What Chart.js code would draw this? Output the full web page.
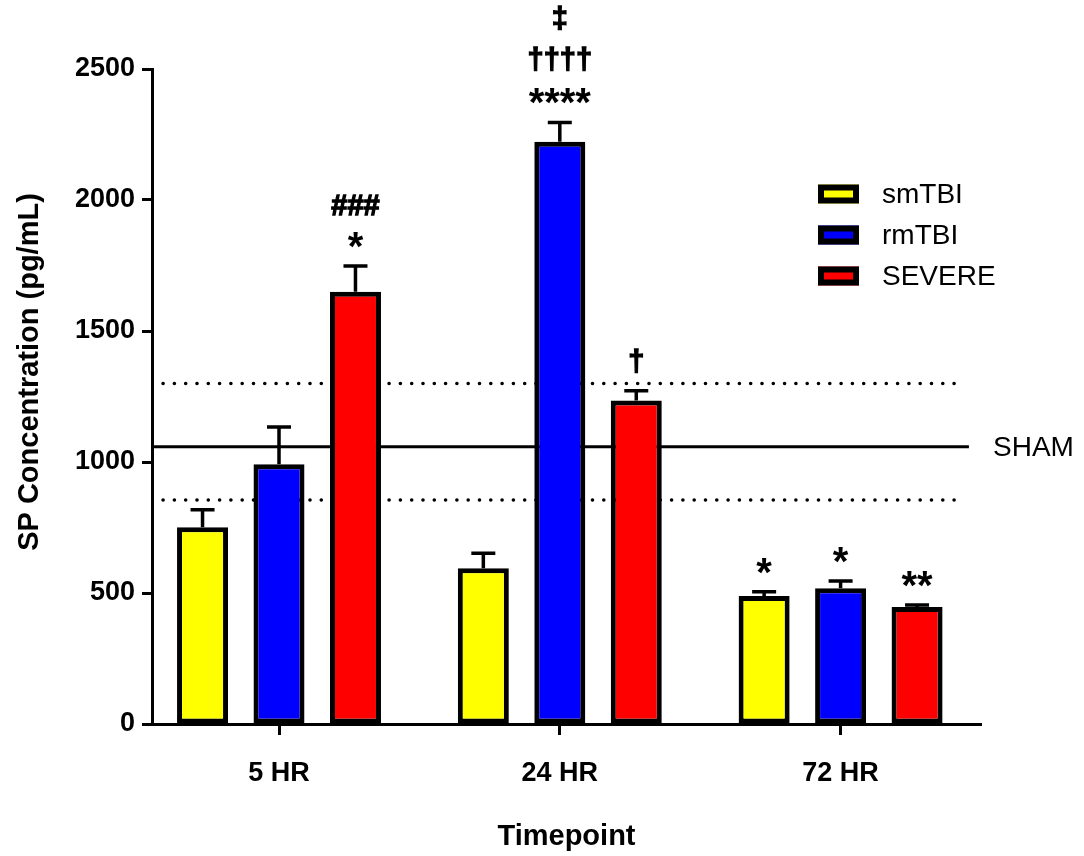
<!DOCTYPE html>
<html lang="en">
<head>
  <meta charset="UTF-8" />
  <title>SP Concentration</title>
  <script src="https://cdn.jsdelivr.net/npm/chart.js"></script>
  <style>
    html, body { margin: 0; padding: 0; background: #fff; }
    #wrap { width: 1084px; height: 856px; }
  </style>
</head>
<body>
  <div id="wrap"><canvas id="spChart"></canvas></div>

  <script>
    // values
    const timepoints = ['5 HR', '24 HR', '72 HR'];
    const groups = ['smTBI', 'rmTBI', 'SEVERE'];
    const smTBIMean = [751, 594, 489];
    const smTBISem = [67, 58, 16];
    const rmTBIMean = [991, 2222, 518];
    const rmTBISem = [143, 74, 28];
    const severeMean = [1650, 1235, 447];
    const severeSem = [98, 37, 7];
    const smTBISig = [[], [], ['*']];
    const rmTBISig = [[], ['****', '††††', '‡'], ['*']];
    const severeSig = [['*', '###'], ['†'], ['**']];
    const shamMean = 1058;
    const shamUpper = 1300;
    const shamLower = 855;
    const yTicks = [0, 500, 1000, 1500, 2000, 2500];

    const FONT = "'Liberation Sans', Arial, sans-serif";
    const colors = ['#ffff00', '#0000ff', '#ff0000'];
    Chart.defaults.font.family = FONT;
    Chart.defaults.color = '#000';

    function barSet(label, mean, sem, sig, color) {
      return {
        type: 'bar',
        label: label,
        data: mean.map((v, i) => ({ x: i + 1, y: v })),
        sem: sem,
        sig: sig,
        backgroundColor: color,
        borderColor: '#000',
        borderWidth: 5,
        borderSkipped: false,
        categoryPercentage: 0.817,
        barPercentage: 0.667,
        order: 1
      };
    }

    function shamLine(value, dotted, x0, x1) {
      return {
        type: 'line',
        label: 'sham',
        data: [{ x: x0, y: value }, { x: x1, y: value }],
        borderColor: '#000',
        borderWidth: dotted ? 3.5 : 3,
        borderDash: dotted ? [0.1, 11.2] : [],
        borderCapStyle: dotted ? 'round' : 'butt',
        pointRadius: 0,
        order: 2
      };
    }

    const overlay = {
      id: 'overlay',
      afterDatasetsDraw(chart) {
        const ctx = chart.ctx;
        const yScale = chart.scales.y;
        ctx.save();
        ctx.strokeStyle = '#000';
        ctx.fillStyle = '#000';
        chart.data.datasets.forEach((ds, di) => {
          if (ds.type !== 'bar') return;
          const meta = chart.getDatasetMeta(di);
          meta.data.forEach((bar, j) => {
            const capY = yScale.getPixelForValue(ds.data[j].y + ds.sem[j]);
            ctx.lineWidth = 3.5;
            ctx.beginPath();
            ctx.moveTo(bar.x, bar.y);
            ctx.lineTo(bar.x, capY);
            ctx.moveTo(bar.x - 12, capY);
            ctx.lineTo(bar.x + 12, capY);
            ctx.stroke();

            // significance marks stacked above the error bar
            let bottom = capY - 18;
            ds.sig[j].forEach(txt => {
              const star = txt.includes('*');
              ctx.font = (star ? 'bold 40px ' : 'bold 29px ') + FONT;
              ctx.textAlign = 'center';
              ctx.textBaseline = 'alphabetic';
              const m = ctx.measureText(txt);
              const base = bottom - m.actualBoundingBoxDescent;
              ctx.fillText(txt, bar.x, base);
              if (!star) {
                ctx.lineWidth = 1.3;
                ctx.strokeText(txt, bar.x, base);
              }
              bottom = base - m.actualBoundingBoxAscent - 17;
            });
          });
        });

        // SHAM label
        ctx.font = '28px ' + FONT;
        ctx.textAlign = 'left';
        ctx.textBaseline = 'middle';
        ctx.fillText('SHAM', 993, yScale.getPixelForValue(shamMean) + 1);

        // legend
        groups.forEach((g, i) => {
          const y = 194 + i * 41;
          ctx.fillStyle = colors[i];
          ctx.fillRect(818, y - 9.5, 41, 19);
          ctx.lineWidth = 6;
          ctx.strokeRect(821, y - 6.5, 35, 13);
          ctx.fillStyle = '#000';
          ctx.font = '28px ' + FONT;
          ctx.fillText(g, 882, y + 1);
        });

        // y title
        ctx.translate(30, 372);
        ctx.rotate(-Math.PI / 2);
        ctx.font = 'bold 29px ' + FONT;
        ctx.textAlign = 'center';
        ctx.textBaseline = 'middle';
        ctx.fillText('SP Concentration (pg/mL)', 0, 0);
        ctx.restore();
      }
    };

    const xMin = 0.5477;
    const ctx = document.getElementById('spChart').getContext('2d');
    new Chart(ctx, {
      type: 'bar',
      data: {
        datasets: [
          barSet(groups[0], smTBIMean, smTBISem, smTBISig, colors[0]),
          barSet(groups[1], rmTBIMean, rmTBISem, rmTBISig, colors[1]),
          barSet(groups[2], severeMean, severeSem, severeSig, colors[2]),
          shamLine(shamMean, false, xMin, 3.457),
          shamLine(shamUpper, true, 0.587, 3.43),
          shamLine(shamLower, true, 0.587, 3.43)
        ]
      },
      options: {
        responsive: true,
        maintainAspectRatio: false,
        animation: false,
        layout: { padding: { top: 69, right: 103, bottom: 0, left: 0 } },
        plugins: {
          legend: { display: false },
          tooltip: { enabled: false }
        },
        scales: {
          x: {
            type: 'linear',
            min: xMin,
            max: 3.5,
            offset: false,
            afterBuildTicks: s => { s.ticks = [1, 2, 3].map(v => ({ value: v })); },
            afterFit: s => { s.height = 132; },
            grid: { display: true, drawOnChartArea: false, offset: false, tickLength: 11, tickWidth: 3, tickColor: '#000' },
            border: { display: true, color: '#000', width: 3 },
            ticks: {
              autoSkip: false,
              maxRotation: 0,
              padding: 22,
              font: { size: 27, weight: 'bold' },
              callback: v => timepoints[v - 1]
            },
            title: {
              display: true,
              text: 'Timepoint',
              font: { size: 29, weight: 'bold' },
              padding: { top: 0, bottom: 2 }
            }
          },
          y: {
            min: 0,
            max: 2500,
            afterBuildTicks: s => { s.ticks = yTicks.map(v => ({ value: v })); },
            afterFit: s => { s.width = 152; },
            grid: { display: true, drawOnChartArea: false, tickLength: 10, tickWidth: 3, tickColor: '#000' },
            border: { display: true, color: '#000', width: 3 },
            ticks: {
              padding: 7,
              font: { size: 27, weight: 'bold' },
              callback: v => String(v)
            }
          }
        }
      },
      plugins: [overlay]
    });
  </script>
</body>
</html>
